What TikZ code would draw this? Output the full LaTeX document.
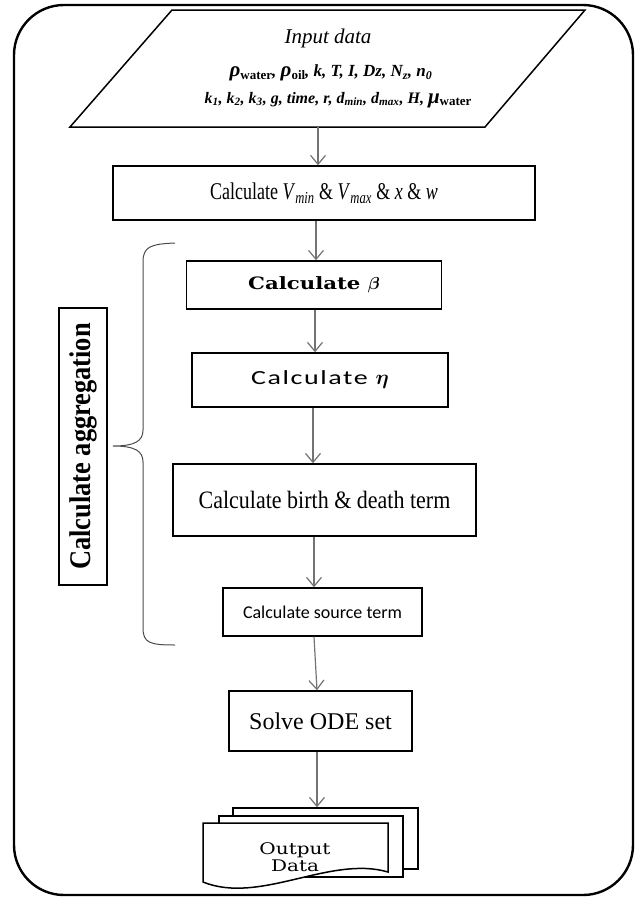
\documentclass[tikz,border=0pt]{standalone}
\usepackage{amsmath}
\usepackage{fontspec}
\setmainfont{Liberation Serif}
\newfontfamily\bookfont[FakeStretch=1.25]{DejaVu Serif}
\newfontfamily\calfont{Carlito}
\newfontfamily\calwide[FakeStretch=1.4,LetterSpace=8]{Carlito}
\newfontfamily\narrowfont[FakeStretch=0.75]{Liberation Serif}
\newfontfamily\slimfont[FakeStretch=0.88]{Liberation Serif}
\newcommand{\subw}[1]{\raisebox{-0.3ex}{\fontsize{13}{14}\selectfont\upshape #1}}
\usetikzlibrary{arrows.meta, positioning}

\begin{document}
\begin{tikzpicture}[x=1pt, y=-1pt,
    procbox/.style={draw, line width=1.5pt, inner sep=0pt, align=center},
    flow/.style={draw=black!55, line width=1.2pt, -{Straight Barb[length=9pt, width=15pt]}},
    sheet/.style={draw, line width=1.5pt, fill=white}]
  \useasboundingbox (0,0) rectangle (636,897);
  \draw[line width=2.4pt, rounded corners=50pt] (14,5) rectangle (633,895);

  % input data
  \draw[line width=1.5pt] (172,10) -- (585,10) -- (485,127) -- (70,127) -- cycle;
  \node (title) at (328,38) {\fontsize{21}{24}\selectfont\itshape Input data};
  \node (par1) at (331,73) {\fontsize{17}{20}\selectfont\bfseries\itshape
    {\fontsize{21}{20}\selectfont ρ}\subw{water}, {\fontsize{21}{20}\selectfont ρ}\subw{oil}, k, T, I, Dz, N\textsubscript{z}, n\textsubscript{0}};
  \node (par2) at (338,100) {\fontsize{16}{20}\selectfont\bfseries\itshape
    k\textsubscript{1}, k\textsubscript{2}, k\textsubscript{3}, g, time, r, d\textsubscript{min}, d\textsubscript{max}, H, {\fontsize{21}{20}\selectfont μ}\subw{water}};
  \coordinate (inp) at (318,127);

  % steps
  \node[procbox, minimum width=422pt, minimum height=54pt] (vx) at (324,193)
    {\fontsize{24}{26}\selectfont\narrowfont Calculate \textit{V}\textsubscript{\textit{min}} \& \textit{V}\textsubscript{\textit{max}} \& \textit{x} \& \textit{w}};
  \node[procbox, minimum width=255pt, minimum height=48pt] (beta) at (314,285)
    {\fontsize{17}{20}\selectfont\bookfont\bfseries Calculate $\boldsymbol{\beta}$};
  \node[procbox, minimum width=256pt, minimum height=54pt] (eta) at (320,380)
    {\fontsize{20}{22}\selectfont\calwide Calculate $\boldsymbol{\eta}$};
  \node[procbox, minimum width=303pt, minimum height=72pt] (birth) at (324.5,500)
    {\fontsize{25}{28}\selectfont\slimfont Calculate birth \& death term};
  \node[procbox, minimum width=199pt, minimum height=48pt] (src) at (322.5,612)
    {\fontsize{18}{20}\selectfont\calfont Calculate source term};
  \node[procbox, minimum width=183pt, minimum height=60pt] (ode) at (320.5,721)
    {\fontsize{24}{26}\selectfont Solve ODE set};

  % aggregation brace
  \draw[line width=1pt, black!70] (175,243) .. controls (150,244) and (143,247) .. (143,262)
    -- (143,430) .. controls (143,441) and (135,446) .. (113,446)
    .. controls (135,446) and (143,451) .. (143,462)
    -- (143,628) .. controls (143,643) and (150,645) .. (175,645);
  \node[procbox, line width=1.2pt, rotate=90, minimum width=277pt, minimum height=48pt] (agg) at (83,446.5)
    {\fontsize{30}{32}\selectfont\slimfont\bfseries Calculate aggregation};

  % output documents
  \node[sheet, minimum width=185pt, minimum height=61pt] (back) at (325.5,838.5) {};
  \node[sheet, minimum width=184pt, minimum height=61pt] (mid) at (311,846.5) {};
  \draw[sheet] (203,823) -- (388,823) -- (388,872)
    .. controls (330,855) and (260,905) .. (203,882) -- cycle;
  \node[align=center, font={\fontsize{16}{17}\selectfont\bookfont}] (out) at (295,857) {Output\\Data};

  \draw[flow] (inp) -- (inp |- vx.north);
  \draw[flow] (vx.south -| 316,0) -- (316,0 |- beta.north);
  \draw[flow] (beta.south -| 315,0) -- (315,0 |- eta.north);
  \draw[flow] (eta.south -| 313,0) -- (313,0 |- birth.north);
  \draw[flow] (birth.south -| 314,0) -- (314,0 |- src.north);
  \draw[flow] (src.south -| 314,0) -- (317,0 |- ode.north);
  \draw[flow] (ode.south -| 317,0) -- (317,0 |- back.north);
\end{tikzpicture}
\end{document}
